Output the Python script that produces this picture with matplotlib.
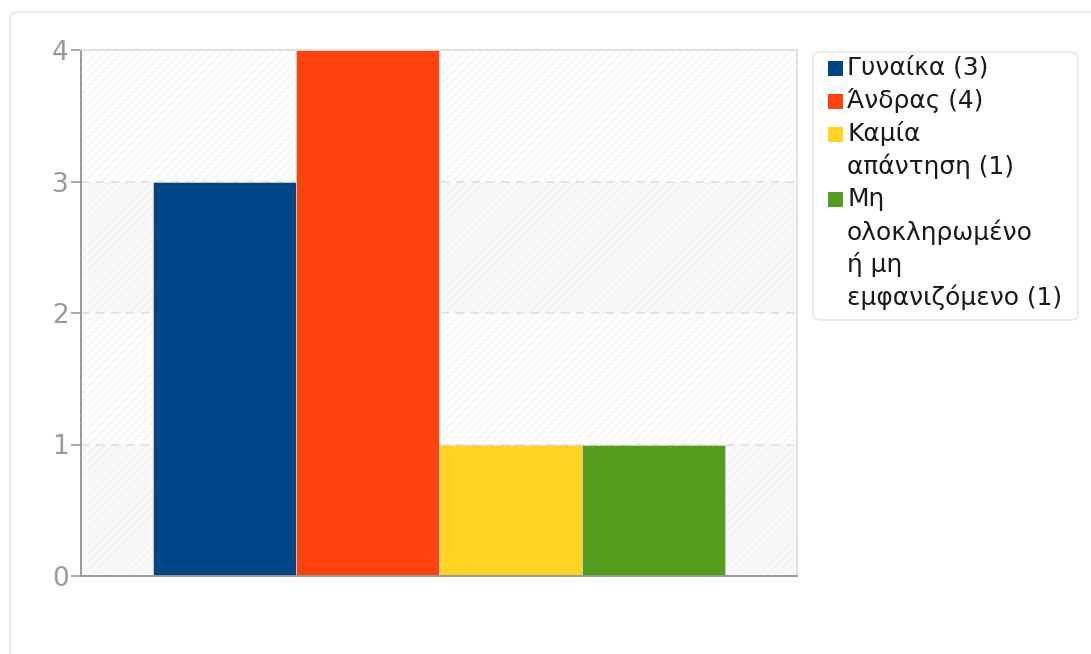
import matplotlib
matplotlib.use("Agg")
import matplotlib.pyplot as plt
from matplotlib.patches import FancyBboxPatch, Rectangle

categories = ["Γυναίκα", "Άνδρας", "Καμία απάντηση", "Μη ολοκληρωμένο ή μη εμφανιζόμενο"]
values = [3, 4, 1, 1]
legend_labels = ["Γυναίκα (3)", "Άνδρας (4)", "Καμία\nαπάντηση (1)",
                 "Μη\nολοκληρωμένο\nή μη\nεμφανιζόμενο (1)"]
colors = ["#004586", "#ff420e", "#ffd320", "#579d1c"]
yticks = [0, 1, 2, 3, 4]

W, H = 1091, 654
plt.rcParams['font.family'] = ['DejaVu Sans']
plt.rcParams['hatch.color'] = '#efefef'
plt.rcParams['hatch.linewidth'] = 0.6

fig = plt.figure(figsize=(W / 100, H / 100), dpi=100)

def fx(px):
    return px / W

def fy(py):
    return 1 - py / H

# card
card = FancyBboxPatch((fx(10), fy(680)), fx(1100) - fx(10), fy(12) - fy(680),
                      boxstyle="round,pad=0,rounding_size=0.008",
                      transform=fig.transFigure, facecolor="white",
                      edgecolor="#e6e6e6", linewidth=1.2, zorder=-10)
fig.patches.append(card)

ax = fig.add_axes([fx(81), fy(576), fx(797) - fx(81), fy(50) - fy(576)])
ax.set_zorder(1)
ax.set_facecolor("white")
ax.set_xlim(-1.0, 4.0)
ax.set_ylim(0, 4)

# alternating hatched bands
for i in range(4):
    fc = "#f9f9f9" if i % 2 == 0 else "#ffffff"
    ax.axhspan(i, i + 1, facecolor=fc, edgecolor="#efefef", hatch="////",
               linewidth=0, zorder=0)

for y in yticks[1:-1]:
    ax.axhline(y, color="#e0e0e0", linestyle=(0, (5, 4)), linewidth=1.2, zorder=1)

xs = list(range(len(values)))
ax.bar(xs, values, width=1.0, color=colors, edgecolor="#d8d8d8", linewidth=0.5, zorder=2)

ax.set_yticks(yticks)
ax.set_yticklabels([str(t) for t in yticks], fontsize=19, color="#9a9a9a")
ax.set_xticks([])
ax.tick_params(axis="y", length=7, width=1.2, color="#999999", pad=2)
for s in ["left", "bottom"]:
    ax.spines[s].set_color("#999999")
    ax.spines[s].set_linewidth(1.4)
for s in ["top", "right"]:
    ax.spines[s].set_color("#dcdcdc")
    ax.spines[s].set_linewidth(1.2)

# legend box
lb = FancyBboxPatch((fx(813), fy(320)), fx(1078) - fx(813), fy(52) - fy(320),
                    boxstyle="round,pad=0,rounding_size=0.008",
                    transform=fig.transFigure, facecolor="white",
                    edgecolor="#e4e4e4", linewidth=1.0, zorder=3)
fig.patches.append(lb)

line_y = 68.0
step = 32.8
for lab, c in zip(legend_labels, colors):
    lines = lab.split("\n")
    fig.patches.append(Rectangle((fx(828), fy(line_y + 8)), fx(843) - fx(828),
                                 fy(line_y - 7) - fy(line_y + 8),
                                 transform=fig.transFigure, facecolor=c,
                                 edgecolor="none", zorder=4))
    for ln in lines:
        fig.text(fx(847), fy(line_y), ln, fontsize=17.9, color="#1a1a1a",
                 va="center", ha="left", zorder=5)
        line_y += step

fig.savefig("out.png", dpi=100)
